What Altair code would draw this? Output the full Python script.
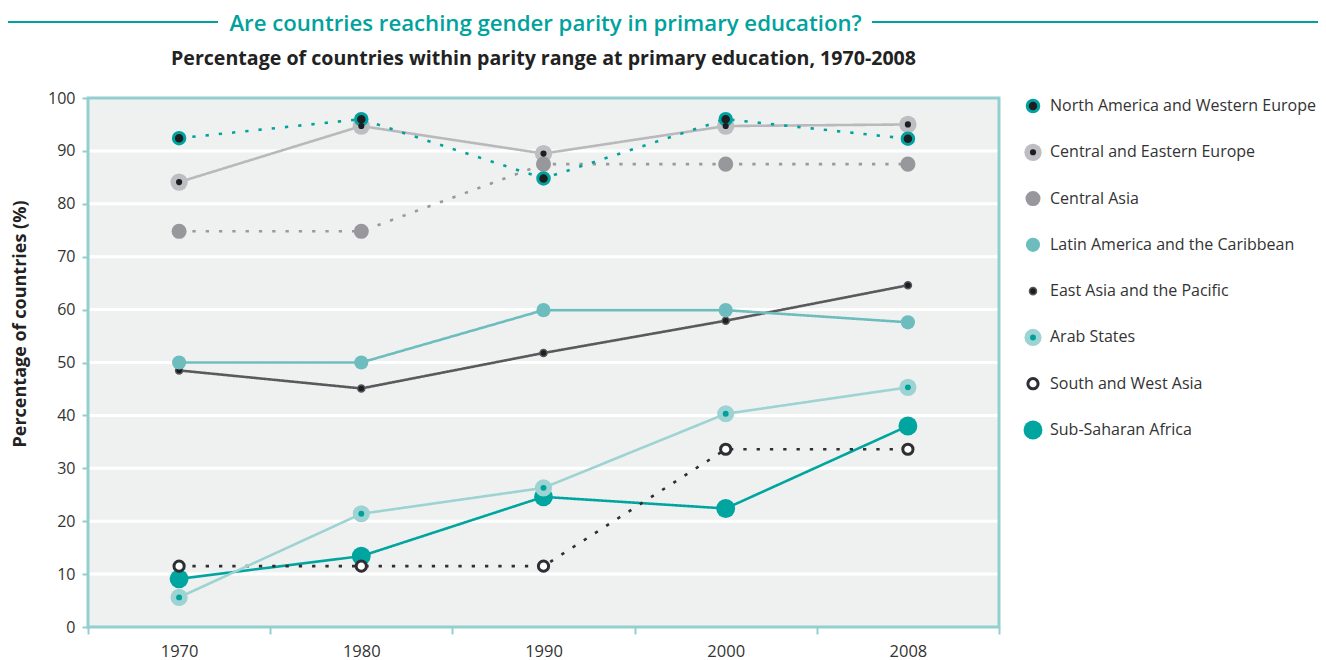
import altair as alt
import pandas as pd

# ---------------- data ----------------
years = ["1970", "1980", "1990", "2000", "2008"]
series_names = [
    "North America and Western Europe",
    "Central and Eastern Europe",
    "Central Asia",
    "Latin America and the Caribbean",
    "East Asia and the Pacific",
    "Arab States",
    "South and West Asia",
    "Sub-Saharan Africa",
]
na_we = [92.4, 96.0, 84.8, 96.0, 92.3]
ce_europe = [84.1, 94.7, 89.5, 94.7, 95.0]
central_asia = [74.8, 74.8, 87.5, 87.5, 87.5]
latin_america = [50.0, 50.0, 59.9, 59.9, 57.6]
east_asia = [48.5, 45.1, 51.8, 57.9, 64.6]
arab_states = [5.6, 21.4, 26.3, 40.3, 45.3]
south_west_asia = [11.5, 11.5, 11.5, 33.6, 33.6]
sub_saharan = [9.1, 13.4, 24.6, 22.4, 38.0]

title_text = "Are countries reaching gender parity in primary education?"
subtitle_text = "Percentage of countries within parity range at primary education, 1970-2008"
y_title = "Percentage of countries (%)"
y_ticks = [0, 10, 20, 30, 40, 50, 60, 70, 80, 90, 100]
grid_values = [10, 20, 30, 40, 50, 60, 70, 80, 90]

# ---------------- styles ----------------
TEAL = "#00a29d"
BORDER = "#93cfcf"
PLOT_BG = "#eff1f0"
line_colors = ["#00a29d", "#b9b9bd", "#9a999d", "#6dbdbe", "#5a595d", "#9dd3d2", "#2f2e33", "#00a5a0"]
line_dash = [[3.3, 10], [1, 0], [3.3, 10], [1, 0], [1, 0], [1, 0], [3.3, 10], [1, 0]]
fill_colors = ["#1d1d22", "#bebec2", "#98979b", "#6dbdbe", "#1d1d22", "#9dd3d2", "#ffffff", "#00a5a0"]
stroke_colors = ["#00a29d", "#bebec2", "#98979b", "#6dbdbe", "#58575a", "#9dd3d2", "#2f2e33", "#00a5a0"]
stroke_widths = [3, 0, 0, 0, 1.5, 0, 3, 0]
sizes = [133, 300, 227, 201, 50, 293, 104, 356]
inner_series = ["Central and Eastern Europe", "Arab States"]
inner_colors = ["#1d1d22", "#00a19c"]
inner_sizes = [38, 35]
draw_order = [
    "Sub-Saharan Africa",
    "South and West Asia",
    "Arab States",
    "East Asia and the Pacific",
    "Latin America and the Caribbean",
    "Central and Eastern Europe",
    "Central Asia",
    "North America and Western Europe",
]

values_by_series = dict(zip(series_names, [na_we, ce_europe, central_asia, latin_america,
                                           east_asia, arab_states, south_west_asia, sub_saharan]))
rows = []
for s in draw_order:
    for yr, v in zip(years, values_by_series[s]):
        rows.append({"series": s, "year": yr, "value": v})
df = pd.DataFrame(rows)
legend_df = pd.DataFrame({"series": series_names})
grid_df = pd.DataFrame({"value": grid_values})

W, H = 911, 529
FONT = "Open Sans"

x_enc = alt.X(
    "year:O",
    bandPosition=0.5,
    scale=alt.Scale(type="band", domain=years, paddingInner=0, paddingOuter=0),
    axis=alt.Axis(
        title=None, tickBand="extent", domain=False, tickColor=BORDER, tickWidth=2,
        tickSize=7, labelPadding=9, labelFontSize=16.5, labelColor="#333333",
        labelAngle=0, grid=False, labelFont=FONT,
    ),
)
y_enc = alt.Y(
    "value:Q",
    scale=alt.Scale(domain=[0, 100], nice=False, zero=True),
    axis=alt.Axis(
        title=None, values=y_ticks, domain=False, tickColor=BORDER, tickWidth=2,
        tickSize=6, labelPadding=7, labelFontSize=16, labelColor="#333333",
        labelFont=FONT, grid=False,
    ),
)

fill_enc = alt.Fill("series:N", scale=alt.Scale(type="ordinal", domain=series_names, range=fill_colors), legend=None)
stroke_enc = alt.Stroke("series:N", scale=alt.Scale(type="ordinal", domain=series_names, range=stroke_colors), legend=None)
sw_enc = alt.StrokeWidth("series:N", scale=alt.Scale(type="ordinal", domain=series_names, range=stroke_widths), legend=None)
size_enc = alt.Size("series:N", scale=alt.Scale(type="ordinal", domain=series_names, range=sizes), legend=None)

tdf = pd.DataFrame({"t": [title_text], "s": [subtitle_text], "y": [y_title]})
tbase = alt.Chart(tdf)

plot_bg = tbase.mark_rect(fill=PLOT_BG, stroke=None).encode(
    x=alt.value(0), x2=alt.value(W), y=alt.value(0), y2=alt.value(H))
grid = alt.Chart(grid_df).mark_rule(stroke="#ffffff", color="#ffffff", strokeWidth=3, opacity=1).encode(
    y=y_enc, x=alt.value(0), x2=alt.value(W)
)
base = alt.Chart(df)
lines = base.mark_line(strokeWidth=2.6).encode(
    x=x_enc, y=y_enc,
    color=alt.Color("series:N", scale=alt.Scale(domain=series_names, range=line_colors), legend=None),
    strokeDash=alt.StrokeDash("series:N", scale=alt.Scale(domain=series_names, range=line_dash), legend=None),
    detail="series:N",
)
points = base.mark_point(filled=True, opacity=1, shape="circle").encode(
    x=x_enc, y=y_enc, fill=fill_enc, stroke=stroke_enc, strokeWidth=sw_enc, size=size_enc,
)
inner_layers = []
for s, c, sz in zip(inner_series, inner_colors, inner_sizes):
    inner_layers.append(
        base.transform_filter(alt.datum.series == s).mark_circle(opacity=1).encode(
            x=x_enc, y=y_enc, fill=alt.value(c), size=alt.value(sz)
        )
    )
main = alt.layer(grid, lines, points, *inner_layers)

# ---------------- legend ----------------
leg_y = alt.Y("series:N", scale=alt.Scale(type="point", domain=series_names, range=[8, 332], padding=0), axis=None)
lbase = alt.Chart(legend_df)
leg_points = lbase.mark_point(filled=True, opacity=1, shape="circle").encode(
    x=alt.value(945), y=leg_y, fill=fill_enc, stroke=stroke_enc, strokeWidth=sw_enc, size=size_enc,
)
leg_inner = []
for s, c, sz in zip(inner_series, inner_colors, inner_sizes):
    leg_inner.append(
        lbase.transform_filter(alt.datum.series == s).mark_circle(opacity=1).encode(
            x=alt.value(945), y=leg_y, fill=alt.value(c), size=alt.value(sz)
        )
    )
leg_text = lbase.mark_text(align="left", baseline="middle", fontSize=16.0, color="#333333", font=FONT).encode(
    x=alt.value(962), y=leg_y, text="series:N"
)
legend = alt.layer(leg_points, *leg_inner, leg_text)

# ---------------- titles & frame ----------------
title = tbase.mark_text(align="center", baseline="middle", fontSize=22.2, fontWeight=600,
                        color=TEAL, font=FONT).encode(x=alt.value(W / 2 + 2), y=alt.value(-74), text="t:N")
subtitle = tbase.mark_text(align="center", baseline="middle", fontSize=19.6, fontWeight="bold",
                           color="#222222", font=FONT).encode(x=alt.value(W / 2), y=alt.value(-39), text="s:N")
ytitle = tbase.mark_text(align="center", baseline="middle", fontSize=18, fontWeight="bold", angle=270,
                         color="#222222", font=FONT).encode(x=alt.value(-67), y=alt.value(226), text="y:N")
rule_l = tbase.mark_rule(color=TEAL, strokeWidth=2).encode(
    x=alt.value(-90), x2=alt.value(130), y=alt.value(-76))
rule_r = tbase.mark_rule(color=TEAL, strokeWidth=2).encode(
    x=alt.value(784), x2=alt.value(1240), y=alt.value(-76))
frame = tbase.mark_rect(fill="transparent", stroke=BORDER, strokeWidth=3).encode(
    x=alt.value(0), x2=alt.value(W), y=alt.value(0), y2=alt.value(H))
titles = alt.layer(frame, rule_l, rule_r, title, subtitle, ytitle)

chart = alt.layer(plot_bg, main, legend, titles).resolve_scale(y="independent").properties(
    width=W, height=H,
    autosize=alt.AutoSizeParams(type="none"),
    padding={"left": 80, "top": 90, "right": 319, "bottom": 34},
    background="#ffffff",
).configure_view(
    stroke="transparent",
).configure(font=FONT)

chart.save("out.html", embed_options={"renderer": "svg", "actions": False})
